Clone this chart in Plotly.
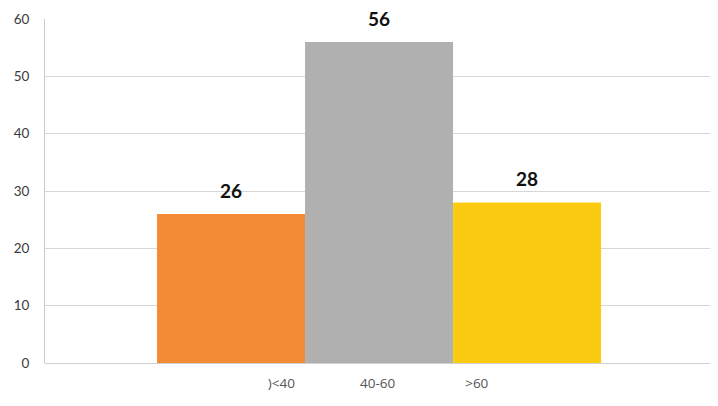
import plotly.graph_objects as go

# Age groups and counts
categories = [")<40", "40-60", ">60"]
values = [26, 56, 28]
bar_colors = ["#F28A36", "#B0B0B0", "#FBCB12"]
y_ticks = [0, 10, 20, 30, 40, 50, 60]

positions = list(range(len(categories)))

fig = go.Figure()
fig.add_trace(go.Bar(
    x=positions,
    y=values,
    width=1.0,
    marker=dict(color=bar_colors, line=dict(width=0)),
    hoverinfo="skip",
    showlegend=False,
))

# Value labels above each bar
for p, v in zip(positions, values):
    fig.add_annotation(
        x=p, y=v, text=f"<b>{v}</b>", showarrow=False,
        yanchor="bottom", yshift=10,
        font=dict(family="Lato, Open Sans, sans-serif", size=19, color="#111111"),
    )

fig.update_layout(
    width=718, height=406,
    margin=dict(l=45, r=8, t=19, b=43),
    paper_bgcolor="white", plot_bgcolor="white",
    font=dict(family="Lato, Open Sans, sans-serif", color="#444444"),
)
fig.update_xaxes(
    range=[-1.257, 3.236],
    tickvals=[0.34, 0.99, 1.66],
    ticktext=categories,
    tickfont=dict(family="Open Sans, sans-serif", size=13.5, color="#555555"),
    showgrid=False, zeroline=False, showline=False,
    ticks="", ticklabelstandoff=10,
)
fig.update_yaxes(
    range=[0, 60],
    tickvals=y_ticks,
    tickfont=dict(size=13.5, color="#3a3a3a"),
    showgrid=True, gridcolor="#D6D6D6", gridwidth=1,
    zeroline=True, zerolinecolor="#D0D0D0", zerolinewidth=1,
    showline=True, linecolor="#C8C8C8", linewidth=1,
    ticks="", ticklabelstandoff=12,
)

fig.write_html("out.html")
